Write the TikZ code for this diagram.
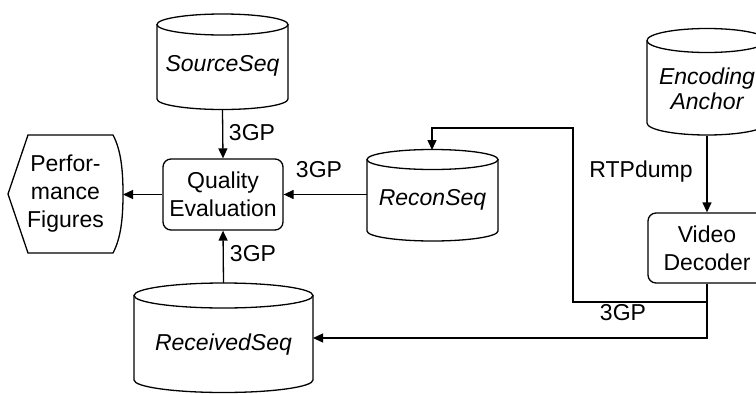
\documentclass[tikz,border=0pt]{standalone}
\usepackage{fontspec}
\setmainfont{Liberation Sans}
\usetikzlibrary{arrows.meta}
\newcommand\dbcyl[5]{% cx, ytop, ybot, halfwidth, ry
  \draw[ln,fill=white] (#1-#4,#2) -- (#1-#4,#3) arc[start angle=180,end angle=0,x radius=#4,y radius=#5] -- (#1+#4,#2);
  \draw[ln] (#1,#2) ellipse[x radius=#4,y radius=#5];}
\begin{document}
\begin{tikzpicture}[x=1pt,y=-1pt,
  ln/.style={line width=1.3pt},
  arr/.style={ln,-{Triangle[length=10pt,width=9pt]}},
  txt/.style={font=\fontsize{23}{28}\selectfont,align=center,inner sep=0pt},
  itxt/.style={txt,font=\fontsize{23}{25}\selectfont\itshape},
  hold/.style={inner sep=0pt,outer sep=0pt},
  procbox/.style={draw,ln,rounded corners=8pt,txt}]
\useasboundingbox (0,0) rectangle (756,394);
\clip (0,0) rectangle (756,394);

% cylinders
\dbcyl{222.5}{24.5}{99}{65.5}{10.5}
\node[hold,minimum width=131pt,minimum height=96pt] (src) at (222.5,62) {};
\node[itxt] (srct) at (222.5,66) {SourceSeq};

\dbcyl{707}{40.5}{123}{60}{12}
\node[hold,minimum width=120pt,minimum height=107pt] (enc) at (707,82) {};
\node[itxt] (enct) at (707,89) {Encoding\\Anchor};

\dbcyl{432.5}{159.5}{231}{65.5}{10}
\node[hold,minimum width=131pt,minimum height=91pt] (recon) at (432.5,195.5) {};
\node[itxt] (recont) at (432.5,200) {ReconSeq};

\dbcyl{223.5}{295.5}{380}{89.5}{12.5}
\node[hold,minimum width=179pt,minimum height=109pt] (recv) at (223.5,337.5) {};
\node[itxt] (recvt) at (223.5,345) {ReceivedSeq};

% process boxes
\node[procbox,minimum width=120pt,minimum height=71pt] (qe) at (223,194.5) {Quality\\Evaluation};
\node[procbox,minimum width=118pt,minimum height=70pt] (vd) at (707,248) {Video\\Decoder};

% display shape
\draw[ln] (28,135) -- (113,135) .. controls (121,150) and (123,170) .. (123,194)
  .. controls (123,218) and (121,238) .. (113,253) -- (28,253) -- (8,194) -- cycle;
\node[hold,minimum width=115pt,minimum height=118pt] (perf) at (65.5,194) {};
\node[txt] (perft) at (65.5,194) {Perfor-\\mance\\Figures};

% connectors
\draw[arr] (src.south) -- (qe.north);
\node[txt] (l1) at (252,133) {3GP};
\draw[arr] (recon.west |- qe.east) -- (qe.east);
\node[txt] (l2) at (319,170) {3GP};
\draw[arr] (qe.west) -- (perf.east |- qe.west);
\draw[arr] (recv.north) -- (qe.south);
\node[txt] (l3) at (253,254) {3GP};
\draw[arr] (enc.south) -- (vd.north);
\node[txt] (l4) at (641,172) {RTPdump};
\draw[arr] (vd.south) -- (707,302) -- (573,302) -- (573,128) -- (432,128) -- (recon.north -| 432,0);
\node[txt] (l5) at (623,313) {3GP};
\draw[arr] (vd.south) -- (707,338) -- (recv.east |- 0,338);
\end{tikzpicture}
\end{document}
